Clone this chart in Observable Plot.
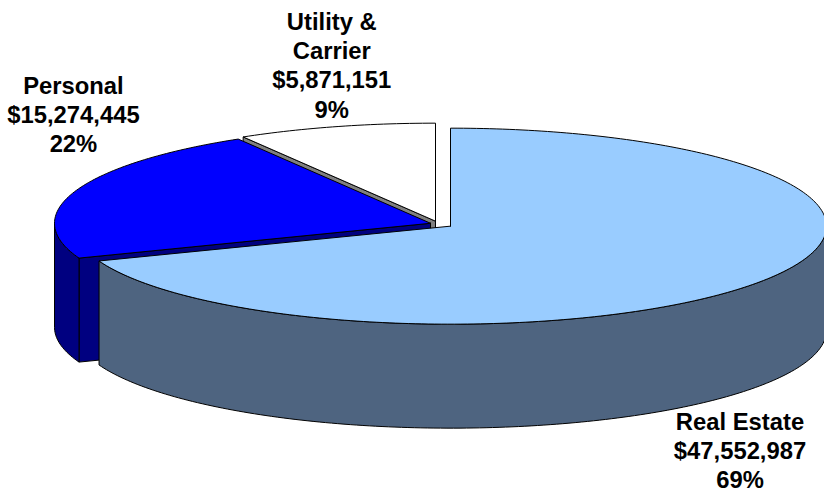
<!DOCTYPE html>
<html><head><meta charset="utf-8">
<script src="https://cdn.jsdelivr.net/npm/d3@7"></script>
<script src="https://cdn.jsdelivr.net/npm/@observablehq/plot@0.6"></script>
<style>body{margin:0;background:#fff}</style>
</head><body><div id="chart"></div>
<script>
// ---- data ----
const categories = ["Real Estate", "Personal", "Utility &\nCarrier"];
const amounts = [47552987, 15274445, 5871151];
// ---- styling / layout ----
const topColors = ["#99CCFF", "#0000FF", "#FFFFFF"];
const sideColors = ["#4E6480", "#000080", "#808080"];
const explode = [0.0388, 0.0225, 0.03];
const labelNudge = [[-20, 64], [-2, -77], [-4, -62]];

const tilt = 98 / 376, depth = 104 / 376;
const total = d3.sum(amounts);
const deg = Math.PI / 180;
let acc = 0;
const slices = amounts.map((v, i) => {
  const a0 = acc / total * 2 * Math.PI; acc += v; const a1 = acc / total * 2 * Math.PI;
  const m = (a0 + a1) / 2;
  return {i, a0, a1, m, ou: explode[i] * Math.sin(m), ov: explode[i] * Math.cos(m)};
});
function P(s, th, r, h) { return {x: s.ou + r * Math.sin(th), y: (s.ov + r * Math.cos(th)) * tilt - h}; }
function arc(s, t0, t1, h) {
  const n = Math.max(2, Math.ceil((t1 - t0) / deg));
  return d3.range(n + 1).map(k => P(s, t0 + (t1 - t0) * k / n, 1, h));
}
function faces(s) {
  const out = [];
  for (const [th, nAng] of [[s.a0, s.a0 - Math.PI / 2], [s.a1, s.a1 + Math.PI / 2]]) {
    if (Math.cos(nAng) < -1e-6)
      out.push({pts: [P(s, 0, 0, 0), P(s, th, 1, 0), P(s, th, 1, depth), P(s, 0, 0, depth)], fill: sideColors[s.i]});
  }
  const lo = Math.max(s.a0, Math.PI / 2), hi = Math.min(s.a1, 3 * Math.PI / 2);
  if (hi > lo) {
    out.push({pts: [...arc(s, lo, hi, 0), ...arc(s, lo, hi, depth).reverse()], fill: sideColors[s.i]});
  }
  out.push({pts: [P(s, 0, 0, 0), ...arc(s, s.a0, s.a1, 0)], fill: topColors[s.i]});
  out.forEach(f => f.pts.push(f.pts[0]));
  return out;
}
const order = slices.slice().sort((a, b) => Math.cos(b.m) - Math.cos(a.m));
const marks = [];
for (const s of order) {
  for (const f of faces(s)) {
    marks.push(Plot.line(f.pts, {x: "x", y: "y", fill: f.fill, stroke: "#000", strokeWidth: 1, strokeLinejoin: "round", curve: "linear"}));
  }
}
const fmtMoney = d3.format("$,");
const fmtPct = d3.format(".0%");
for (const s of slices) {
  const front = Math.cos(s.m) < 0;
  const pt = P(s, s.m, 1, front ? depth : 0);
  const label = `${categories[s.i]}\n${fmtMoney(amounts[s.i])}\n${fmtPct(amounts[s.i] / total)}`;
  marks.push(Plot.text([pt], {
    x: "x", y: "y", text: () => label,
    dx: labelNudge[s.i][0], dy: labelNudge[s.i][1],
    fontSize: 23.8, fontWeight: "bold", fontFamily: "'Liberation Sans', Arial, sans-serif",
    lineHeight: 1.22, textAnchor: "middle", lineAnchor: "middle", fill: "#000"
  }));
}
const chart = Plot.plot({
  width: 824, height: 492, margin: 0,
  x: {domain: [-438 / 376, (824 - 438) / 376], axis: null},
  y: {domain: [(223.5 - 492) / 376, 223.5 / 376], axis: null},
  marks
});
document.getElementById("chart").append(chart);
</script>
</body></html>
